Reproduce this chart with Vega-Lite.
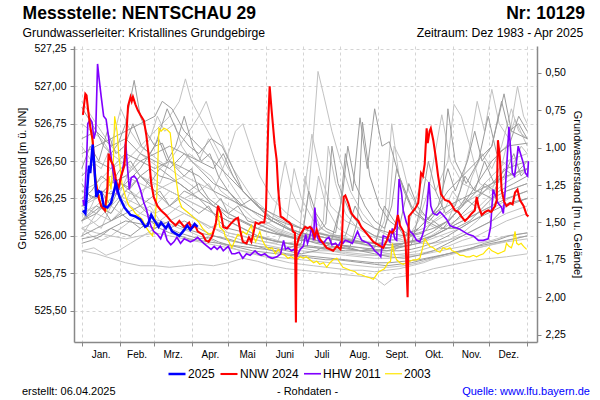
{
"$schema": "https://vega.github.io/schema/vega-lite/v6.json",
"width": 463, "height": 296,
"autosize": {"type": "none"},
"padding": {"left": 74, "top": 46, "right": 63, "bottom": 58},
"background": "white",
"config": {"view": {"stroke": null}, "font": "Liberation Sans", "axisX": {"labelOverlap": false, "labelBound": false, "labelFlush": false}},
"datasets": {
"gd": [
{"s":"g1","d":0,"v":526.86},{"s":"g1","d":6,"v":526.78},{"s":"g1","d":12,"v":526.7},{"s":"g1","d":18,"v":526.6},{"s":"g1","d":24,"v":526.55},{"s":"g1","d":30,"v":526.62},{"s":"g1","d":36,"v":526.75},{"s":"g1","d":43,"v":527.04},{"s":"g1","d":48,"v":526.8},{"s":"g1","d":54,"v":526.68},{"s":"g1","d":60,"v":526.6},{"s":"g1","d":66,"v":526.62},{"s":"g1","d":72,"v":526.5},{"s":"g1","d":84,"v":526.4},{"s":"g1","d":90,"v":526.45},{"s":"g1","d":96,"v":526.3},{"s":"g1","d":108,"v":526.2},{"s":"g1","d":114,"v":526.25},{"s":"g1","d":120,"v":526.15},{"s":"g1","d":132,"v":526.1},{"s":"g1","d":144,"v":526.05},{"s":"g1","d":156,"v":526.02},{"s":"g1","d":168,"v":526.0},{"s":"g1","d":180,"v":525.98},{"s":"g1","d":192,"v":525.95},{"s":"g1","d":204,"v":525.93},{"s":"g1","d":216,"v":525.92},{"s":"g1","d":228,"v":525.9},{"s":"g1","d":240,"v":525.9},{"s":"g1","d":252,"v":525.92},{"s":"g1","d":264,"v":525.95},{"s":"g1","d":276,"v":526.05},{"s":"g1","d":288,"v":526.15},{"s":"g1","d":300,"v":526.3},{"s":"g1","d":312,"v":526.4},{"s":"g1","d":324,"v":526.5},{"s":"g1","d":336,"v":526.6},{"s":"g1","d":346,"v":526.95},{"s":"g1","d":352,"v":526.7},{"s":"g1","d":365,"v":526.65},
{"s":"g3","d":0,"v":526.1},{"s":"g3","d":12,"v":526.15},{"s":"g3","d":24,"v":526.25},{"s":"g3","d":36,"v":526.35},{"s":"g3","d":48,"v":526.45},{"s":"g3","d":60,"v":526.6},{"s":"g3","d":70,"v":526.85},{"s":"g3","d":78,"v":526.7},{"s":"g3","d":88,"v":526.6},{"s":"g3","d":96,"v":526.55},{"s":"g3","d":106,"v":526.65},{"s":"g3","d":115,"v":526.6},{"s":"g3","d":124,"v":526.45},{"s":"g3","d":132,"v":526.3},{"s":"g3","d":144,"v":526.2},{"s":"g3","d":156,"v":526.1},{"s":"g3","d":168,"v":526.05},{"s":"g3","d":180,"v":526.0},{"s":"g3","d":192,"v":525.97},{"s":"g3","d":204,"v":525.95},{"s":"g3","d":216,"v":525.93},{"s":"g3","d":228,"v":525.9},{"s":"g3","d":240,"v":525.88},{"s":"g3","d":252,"v":525.86},{"s":"g3","d":264,"v":525.85},{"s":"g3","d":276,"v":525.87},{"s":"g3","d":288,"v":525.9},{"s":"g3","d":300,"v":525.95},{"s":"g3","d":312,"v":526.0},{"s":"g3","d":324,"v":526.05},{"s":"g3","d":336,"v":526.1},{"s":"g3","d":348,"v":526.2},{"s":"g3","d":365,"v":526.25},
{"s":"g6","d":0,"v":526.0},{"s":"g6","d":12,"v":526.05},{"s":"g6","d":24,"v":526.1},{"s":"g6","d":36,"v":526.15},{"s":"g6","d":48,"v":526.2},{"s":"g6","d":60,"v":526.1},{"s":"g6","d":72,"v":526.05},{"s":"g6","d":84,"v":526.1},{"s":"g6","d":96,"v":526.05},{"s":"g6","d":108,"v":526.0},{"s":"g6","d":120,"v":525.98},{"s":"g6","d":132,"v":525.95},{"s":"g6","d":144,"v":525.93},{"s":"g6","d":156,"v":525.92},{"s":"g6","d":168,"v":525.9},{"s":"g6","d":180,"v":525.88},{"s":"g6","d":192,"v":525.9},{"s":"g6","d":204,"v":525.95},{"s":"g6","d":212,"v":526.2},{"s":"g6","d":216,"v":526.55},{"s":"g6","d":222,"v":526.3},{"s":"g6","d":228,"v":526.79},{"s":"g6","d":234,"v":526.45},{"s":"g6","d":240,"v":526.85},{"s":"g6","d":246,"v":526.6},{"s":"g6","d":252,"v":526.63},{"s":"g6","d":260,"v":526.4},{"s":"g6","d":270,"v":526.2},{"s":"g6","d":282,"v":526.1},{"s":"g6","d":294,"v":526.05},{"s":"g6","d":306,"v":526.05},{"s":"g6","d":318,"v":526.1},{"s":"g6","d":330,"v":526.2},{"s":"g6","d":342,"v":526.3},{"s":"g6","d":354,"v":526.35},{"s":"g6","d":365,"v":526.4},
{"s":"g8","d":0,"v":526.4},{"s":"g8","d":12,"v":526.5},{"s":"g8","d":24,"v":526.45},{"s":"g8","d":36,"v":526.55},{"s":"g8","d":48,"v":526.5},{"s":"g8","d":60,"v":526.45},{"s":"g8","d":72,"v":526.5},{"s":"g8","d":84,"v":526.45},{"s":"g8","d":96,"v":526.4},{"s":"g8","d":108,"v":526.3},{"s":"g8","d":120,"v":526.25},{"s":"g8","d":132,"v":526.2},{"s":"g8","d":144,"v":526.15},{"s":"g8","d":156,"v":526.1},{"s":"g8","d":168,"v":526.05},{"s":"g8","d":180,"v":526.02},{"s":"g8","d":192,"v":526.0},{"s":"g8","d":204,"v":525.98},{"s":"g8","d":216,"v":525.96},{"s":"g8","d":228,"v":525.95},{"s":"g8","d":240,"v":525.93},{"s":"g8","d":252,"v":525.92},{"s":"g8","d":264,"v":525.93},{"s":"g8","d":276,"v":525.95},{"s":"g8","d":288,"v":526.0},{"s":"g8","d":300,"v":526.05},{"s":"g8","d":312,"v":526.15},{"s":"g8","d":324,"v":526.25},{"s":"g8","d":336,"v":526.35},{"s":"g8","d":348,"v":526.45},{"s":"g8","d":365,"v":526.5},
{"s":"g10","d":0,"v":525.98},{"s":"g10","d":12,"v":526.0},{"s":"g10","d":24,"v":526.05},{"s":"g10","d":36,"v":526.1},{"s":"g10","d":48,"v":526.08},{"s":"g10","d":60,"v":526.05},{"s":"g10","d":72,"v":526.1},{"s":"g10","d":84,"v":526.05},{"s":"g10","d":96,"v":526.02},{"s":"g10","d":108,"v":526.0},{"s":"g10","d":120,"v":525.97},{"s":"g10","d":132,"v":525.95},{"s":"g10","d":144,"v":525.93},{"s":"g10","d":156,"v":525.9},{"s":"g10","d":168,"v":525.88},{"s":"g10","d":180,"v":525.87},{"s":"g10","d":192,"v":525.86},{"s":"g10","d":204,"v":525.85},{"s":"g10","d":216,"v":525.84},{"s":"g10","d":228,"v":525.83},{"s":"g10","d":240,"v":525.82},{"s":"g10","d":252,"v":525.82},{"s":"g10","d":264,"v":525.83},{"s":"g10","d":276,"v":525.84},{"s":"g10","d":288,"v":525.86},{"s":"g10","d":300,"v":525.88},{"s":"g10","d":312,"v":525.9},{"s":"g10","d":324,"v":525.93},{"s":"g10","d":336,"v":525.95},{"s":"g10","d":348,"v":525.97},{"s":"g10","d":365,"v":526.0},
{"s":"g12","d":0,"v":526.55},{"s":"g12","d":12,"v":526.6},{"s":"g12","d":24,"v":526.65},{"s":"g12","d":36,"v":526.7},{"s":"g12","d":48,"v":526.75},{"s":"g12","d":60,"v":526.8},{"s":"g12","d":66,"v":526.9},{"s":"g12","d":74,"v":526.85},{"s":"g12","d":84,"v":526.7},{"s":"g12","d":96,"v":526.6},{"s":"g12","d":108,"v":526.5},{"s":"g12","d":120,"v":526.4},{"s":"g12","d":132,"v":526.3},{"s":"g12","d":144,"v":526.2},{"s":"g12","d":156,"v":526.12},{"s":"g12","d":168,"v":526.08},{"s":"g12","d":180,"v":526.05},{"s":"g12","d":192,"v":526.02},{"s":"g12","d":204,"v":526.0},{"s":"g12","d":216,"v":525.98},{"s":"g12","d":228,"v":525.96},{"s":"g12","d":240,"v":525.95},{"s":"g12","d":252,"v":525.94},{"s":"g12","d":264,"v":525.95},{"s":"g12","d":276,"v":525.97},{"s":"g12","d":288,"v":526.0},{"s":"g12","d":300,"v":526.05},{"s":"g12","d":312,"v":526.1},{"s":"g12","d":324,"v":526.15},{"s":"g12","d":336,"v":526.2},{"s":"g12","d":348,"v":526.25},{"s":"g12","d":365,"v":526.3},
{"s":"g14","d":0,"v":526.3},{"s":"g14","d":12,"v":526.25},{"s":"g14","d":24,"v":526.35},{"s":"g14","d":36,"v":526.4},{"s":"g14","d":48,"v":526.5},{"s":"g14","d":60,"v":526.55},{"s":"g14","d":72,"v":526.6},{"s":"g14","d":84,"v":526.55},{"s":"g14","d":96,"v":526.5},{"s":"g14","d":108,"v":526.45},{"s":"g14","d":116,"v":526.55},{"s":"g14","d":124,"v":526.4},{"s":"g14","d":132,"v":526.3},{"s":"g14","d":144,"v":526.2},{"s":"g14","d":156,"v":526.15},{"s":"g14","d":168,"v":526.1},{"s":"g14","d":180,"v":526.05},{"s":"g14","d":192,"v":526.02},{"s":"g14","d":204,"v":526.0},{"s":"g14","d":216,"v":526.0},{"s":"g14","d":224,"v":526.2},{"s":"g14","d":230,"v":526.1},{"s":"g14","d":240,"v":526.05},{"s":"g14","d":252,"v":526.02},{"s":"g14","d":264,"v":526.0},{"s":"g14","d":276,"v":526.02},{"s":"g14","d":288,"v":526.05},{"s":"g14","d":300,"v":526.1},{"s":"g14","d":312,"v":526.2},{"s":"g14","d":324,"v":526.3},{"s":"g14","d":336,"v":526.35},{"s":"g14","d":348,"v":526.4},{"s":"g14","d":365,"v":526.45},
{"s":"g16","d":0,"v":526.1},{"s":"g16","d":12,"v":526.2},{"s":"g16","d":24,"v":526.15},{"s":"g16","d":36,"v":526.3},{"s":"g16","d":48,"v":526.4},{"s":"g16","d":60,"v":526.3},{"s":"g16","d":72,"v":526.2},{"s":"g16","d":84,"v":526.3},{"s":"g16","d":96,"v":526.25},{"s":"g16","d":108,"v":526.15},{"s":"g16","d":120,"v":526.1},{"s":"g16","d":132,"v":526.05},{"s":"g16","d":144,"v":526.0},{"s":"g16","d":156,"v":525.97},{"s":"g16","d":168,"v":525.95},{"s":"g16","d":180,"v":525.93},{"s":"g16","d":192,"v":525.92},{"s":"g16","d":204,"v":525.91},{"s":"g16","d":216,"v":525.9},{"s":"g16","d":228,"v":525.9},{"s":"g16","d":240,"v":525.92},{"s":"g16","d":248,"v":526.2},{"s":"g16","d":256,"v":526.1},{"s":"g16","d":264,"v":526.0},{"s":"g16","d":276,"v":526.05},{"s":"g16","d":288,"v":526.15},{"s":"g16","d":300,"v":526.2},{"s":"g16","d":312,"v":526.25},{"s":"g16","d":324,"v":526.3},{"s":"g16","d":336,"v":526.25},{"s":"g16","d":348,"v":526.3},{"s":"g16","d":365,"v":526.35},
{"s":"g18","d":0,"v":526.65},{"s":"g18","d":12,"v":526.7},{"s":"g18","d":24,"v":526.6},{"s":"g18","d":36,"v":526.65},{"s":"g18","d":48,"v":526.55},{"s":"g18","d":60,"v":526.5},{"s":"g18","d":72,"v":526.45},{"s":"g18","d":84,"v":526.55},{"s":"g18","d":96,"v":526.45},{"s":"g18","d":108,"v":526.35},{"s":"g18","d":120,"v":526.3},{"s":"g18","d":132,"v":526.2},{"s":"g18","d":144,"v":526.15},{"s":"g18","d":156,"v":526.1},{"s":"g18","d":168,"v":526.05},{"s":"g18","d":180,"v":526.0},{"s":"g18","d":192,"v":526.0},{"s":"g18","d":204,"v":525.98},{"s":"g18","d":216,"v":525.97},{"s":"g18","d":228,"v":525.96},{"s":"g18","d":240,"v":525.95},{"s":"g18","d":252,"v":525.94},{"s":"g18","d":264,"v":525.95},{"s":"g18","d":276,"v":525.98},{"s":"g18","d":288,"v":526.03},{"s":"g18","d":300,"v":526.1},{"s":"g18","d":312,"v":526.2},{"s":"g18","d":324,"v":526.35},{"s":"g18","d":336,"v":526.5},{"s":"g18","d":348,"v":526.6},{"s":"g18","d":365,"v":526.62},
{"s":"g19","d":0,"v":526.45},{"s":"g19","d":7,"v":526.6},{"s":"g19","d":14,"v":526.5},{"s":"g19","d":21,"v":526.7},{"s":"g19","d":28,"v":526.55},{"s":"g19","d":35,"v":526.6},{"s":"g19","d":42,"v":526.75},{"s":"g19","d":49,"v":526.6},{"s":"g19","d":56,"v":526.55},{"s":"g19","d":63,"v":526.65},{"s":"g19","d":70,"v":526.5},{"s":"g19","d":77,"v":526.6},{"s":"g19","d":84,"v":526.8},{"s":"g19","d":91,"v":526.6},{"s":"g19","d":98,"v":526.5},{"s":"g19","d":105,"v":526.55},{"s":"g19","d":112,"v":526.4},{"s":"g19","d":120,"v":526.3},{"s":"g19","d":130,"v":526.2},{"s":"g19","d":140,"v":526.25},{"s":"g19","d":150,"v":526.15},{"s":"g19","d":160,"v":526.1},{"s":"g19","d":170,"v":526.05},{"s":"g19","d":180,"v":526.02},{"s":"g19","d":190,"v":526.0},{"s":"g19","d":200,"v":526.08},{"s":"g19","d":205,"v":526.6},{"s":"g19","d":210,"v":526.35},{"s":"g19","d":220,"v":526.15},{"s":"g19","d":230,"v":526.05},{"s":"g19","d":240,"v":526.0},{"s":"g19","d":250,"v":525.98},{"s":"g19","d":260,"v":526.05},{"s":"g19","d":268,"v":526.35},{"s":"g19","d":275,"v":526.2},{"s":"g19","d":285,"v":526.1},{"s":"g19","d":295,"v":526.2},{"s":"g19","d":300,"v":526.85},{"s":"g19","d":306,"v":526.5},{"s":"g19","d":315,"v":526.35},{"s":"g19","d":325,"v":526.5},{"s":"g19","d":333,"v":526.8},{"s":"g19","d":340,"v":526.55},{"s":"g19","d":350,"v":526.6},{"s":"g19","d":358,"v":526.8},{"s":"g19","d":365,"v":526.7},
{"s":"g21","d":0,"v":526.25},{"s":"g21","d":8,"v":526.3},{"s":"g21","d":16,"v":526.4},{"s":"g21","d":24,"v":526.35},{"s":"g21","d":32,"v":526.45},{"s":"g21","d":40,"v":526.5},{"s":"g21","d":48,"v":526.4},{"s":"g21","d":56,"v":526.35},{"s":"g21","d":64,"v":526.45},{"s":"g21","d":72,"v":526.4},{"s":"g21","d":80,"v":526.35},{"s":"g21","d":88,"v":526.3},{"s":"g21","d":96,"v":526.35},{"s":"g21","d":104,"v":526.25},{"s":"g21","d":112,"v":526.2},{"s":"g21","d":120,"v":526.15},{"s":"g21","d":128,"v":526.2},{"s":"g21","d":136,"v":526.1},{"s":"g21","d":144,"v":526.08},{"s":"g21","d":152,"v":526.05},{"s":"g21","d":160,"v":526.02},{"s":"g21","d":168,"v":526.0},{"s":"g21","d":176,"v":525.98},{"s":"g21","d":184,"v":526.0},{"s":"g21","d":192,"v":525.97},{"s":"g21","d":200,"v":525.95},{"s":"g21","d":210,"v":525.94},{"s":"g21","d":220,"v":525.93},{"s":"g21","d":226,"v":526.1},{"s":"g21","d":230,"v":526.76},{"s":"g21","d":236,"v":526.4},{"s":"g21","d":244,"v":526.2},{"s":"g21","d":252,"v":526.1},{"s":"g21","d":260,"v":526.05},{"s":"g21","d":270,"v":526.0},{"s":"g21","d":280,"v":526.02},{"s":"g21","d":288,"v":526.1},{"s":"g21","d":296,"v":526.05},{"s":"g21","d":306,"v":526.15},{"s":"g21","d":314,"v":526.25},{"s":"g21","d":322,"v":526.2},{"s":"g21","d":330,"v":526.35},{"s":"g21","d":338,"v":526.3},{"s":"g21","d":346,"v":526.45},{"s":"g21","d":354,"v":526.4},{"s":"g21","d":365,"v":526.5},
{"s":"g23","d":0,"v":525.95},{"s":"g23","d":8,"v":525.97},{"s":"g23","d":16,"v":526.0},{"s":"g23","d":24,"v":526.05},{"s":"g23","d":32,"v":526.02},{"s":"g23","d":40,"v":526.0},{"s":"g23","d":48,"v":526.05},{"s":"g23","d":56,"v":526.1},{"s":"g23","d":64,"v":526.08},{"s":"g23","d":72,"v":526.05},{"s":"g23","d":80,"v":526.02},{"s":"g23","d":88,"v":526.0},{"s":"g23","d":96,"v":525.98},{"s":"g23","d":104,"v":525.99},{"s":"g23","d":112,"v":525.96},{"s":"g23","d":120,"v":525.94},{"s":"g23","d":130,"v":525.92},{"s":"g23","d":140,"v":525.9},{"s":"g23","d":150,"v":525.89},{"s":"g23","d":160,"v":525.88},{"s":"g23","d":170,"v":525.87},{"s":"g23","d":180,"v":525.86},{"s":"g23","d":190,"v":525.85},{"s":"g23","d":200,"v":525.84},{"s":"g23","d":210,"v":525.84},{"s":"g23","d":220,"v":525.83},{"s":"g23","d":230,"v":525.82},{"s":"g23","d":240,"v":525.81},{"s":"g23","d":250,"v":525.8},{"s":"g23","d":260,"v":525.81},{"s":"g23","d":270,"v":525.82},{"s":"g23","d":280,"v":525.84},{"s":"g23","d":290,"v":525.86},{"s":"g23","d":300,"v":525.88},{"s":"g23","d":310,"v":525.9},{"s":"g23","d":320,"v":525.92},{"s":"g23","d":330,"v":525.95},{"s":"g23","d":340,"v":525.97},{"s":"g23","d":350,"v":526.0},{"s":"g23","d":365,"v":526.02},
{"s":"g25","d":0,"v":526.35},{"s":"g25","d":8,"v":526.25},{"s":"g25","d":16,"v":526.3},{"s":"g25","d":24,"v":526.2},{"s":"g25","d":32,"v":526.35},{"s":"g25","d":40,"v":526.3},{"s":"g25","d":48,"v":526.2},{"s":"g25","d":56,"v":526.25},{"s":"g25","d":64,"v":526.3},{"s":"g25","d":72,"v":526.2},{"s":"g25","d":80,"v":526.25},{"s":"g25","d":88,"v":526.2},{"s":"g25","d":96,"v":526.15},{"s":"g25","d":104,"v":526.2},{"s":"g25","d":112,"v":526.1},{"s":"g25","d":120,"v":526.05},{"s":"g25","d":130,"v":526.03},{"s":"g25","d":140,"v":526.0},{"s":"g25","d":150,"v":525.98},{"s":"g25","d":160,"v":525.96},{"s":"g25","d":170,"v":525.95},{"s":"g25","d":180,"v":525.94},{"s":"g25","d":190,"v":525.93},{"s":"g25","d":200,"v":525.92},{"s":"g25","d":210,"v":525.92},{"s":"g25","d":220,"v":525.91},{"s":"g25","d":230,"v":525.9},{"s":"g25","d":240,"v":525.9},{"s":"g25","d":250,"v":525.9},{"s":"g25","d":260,"v":525.92},{"s":"g25","d":270,"v":525.94},{"s":"g25","d":278,"v":526.2},{"s":"g25","d":284,"v":526.5},{"s":"g25","d":290,"v":526.3},{"s":"g25","d":298,"v":526.15},{"s":"g25","d":306,"v":526.2},{"s":"g25","d":314,"v":526.4},{"s":"g25","d":322,"v":526.3},{"s":"g25","d":330,"v":526.5},{"s":"g25","d":338,"v":526.35},{"s":"g25","d":346,"v":526.4},{"s":"g25","d":354,"v":526.55},{"s":"g25","d":360,"v":526.4},{"s":"g25","d":365,"v":526.45},
{"s":"g27","d":0,"v":526.2},{"s":"g27","d":8,"v":526.25},{"s":"g27","d":16,"v":526.3},{"s":"g27","d":24,"v":526.28},{"s":"g27","d":32,"v":526.35},{"s":"g27","d":40,"v":526.32},{"s":"g27","d":48,"v":526.4},{"s":"g27","d":56,"v":526.45},{"s":"g27","d":64,"v":526.4},{"s":"g27","d":72,"v":526.38},{"s":"g27","d":80,"v":526.35},{"s":"g27","d":88,"v":526.3},{"s":"g27","d":96,"v":526.25},{"s":"g27","d":104,"v":526.22},{"s":"g27","d":112,"v":526.18},{"s":"g27","d":120,"v":526.12},{"s":"g27","d":130,"v":526.1},{"s":"g27","d":140,"v":526.06},{"s":"g27","d":150,"v":526.03},{"s":"g27","d":160,"v":526.01},{"s":"g27","d":170,"v":525.99},{"s":"g27","d":180,"v":525.97},{"s":"g27","d":190,"v":525.96},{"s":"g27","d":200,"v":525.95},{"s":"g27","d":210,"v":525.94},{"s":"g27","d":220,"v":525.93},{"s":"g27","d":230,"v":525.92},{"s":"g27","d":240,"v":525.91},{"s":"g27","d":250,"v":525.9},{"s":"g27","d":260,"v":525.9},{"s":"g27","d":270,"v":525.91},{"s":"g27","d":280,"v":525.93},{"s":"g27","d":290,"v":525.96},{"s":"g27","d":300,"v":526.0},{"s":"g27","d":310,"v":526.05},{"s":"g27","d":320,"v":526.1},{"s":"g27","d":330,"v":526.14},{"s":"g27","d":340,"v":526.18},{"s":"g27","d":350,"v":526.22},{"s":"g27","d":365,"v":526.25},
{"s":"g29","d":0,"v":526.1},{"s":"g29","d":8,"v":526.15},{"s":"g29","d":16,"v":526.2},{"s":"g29","d":24,"v":526.1},{"s":"g29","d":32,"v":526.15},{"s":"g29","d":40,"v":526.1},{"s":"g29","d":48,"v":526.05},{"s":"g29","d":56,"v":526.1},{"s":"g29","d":64,"v":526.05},{"s":"g29","d":72,"v":526.02},{"s":"g29","d":80,"v":526.0},{"s":"g29","d":88,"v":525.98},{"s":"g29","d":96,"v":525.97},{"s":"g29","d":104,"v":525.96},{"s":"g29","d":112,"v":525.95},{"s":"g29","d":120,"v":525.94},{"s":"g29","d":130,"v":525.93},{"s":"g29","d":140,"v":525.92},{"s":"g29","d":150,"v":525.91},{"s":"g29","d":160,"v":525.9},{"s":"g29","d":170,"v":525.92},{"s":"g29","d":180,"v":525.95},{"s":"g29","d":186,"v":526.3},{"s":"g29","d":192,"v":526.15},{"s":"g29","d":200,"v":526.05},{"s":"g29","d":208,"v":526.02},{"s":"g29","d":214,"v":526.3},{"s":"g29","d":218,"v":526.6},{"s":"g29","d":224,"v":526.35},{"s":"g29","d":232,"v":526.2},{"s":"g29","d":240,"v":526.1},{"s":"g29","d":248,"v":526.05},{"s":"g29","d":254,"v":526.2},{"s":"g29","d":258,"v":526.45},{"s":"g29","d":264,"v":526.3},{"s":"g29","d":272,"v":526.15},{"s":"g29","d":282,"v":526.1},{"s":"g29","d":292,"v":526.2},{"s":"g29","d":300,"v":526.45},{"s":"g29","d":306,"v":526.3},{"s":"g29","d":316,"v":526.5},{"s":"g29","d":322,"v":526.7},{"s":"g29","d":328,"v":526.5},{"s":"g29","d":336,"v":526.6},{"s":"g29","d":344,"v":526.9},{"s":"g29","d":350,"v":526.7},{"s":"g29","d":358,"v":526.75},{"s":"g29","d":365,"v":526.65}
],
"gl": [
{"s":"g2","d":0,"v":526.3},{"s":"g2","d":12,"v":526.35},{"s":"g2","d":24,"v":526.45},{"s":"g2","d":36,"v":526.5},{"s":"g2","d":48,"v":526.6},{"s":"g2","d":60,"v":526.7},{"s":"g2","d":72,"v":526.8},{"s":"g2","d":80,"v":526.9},{"s":"g2","d":85,"v":527.05},{"s":"g2","d":90,"v":526.9},{"s":"g2","d":100,"v":526.75},{"s":"g2","d":110,"v":526.6},{"s":"g2","d":120,"v":526.45},{"s":"g2","d":132,"v":526.3},{"s":"g2","d":144,"v":526.2},{"s":"g2","d":156,"v":526.1},{"s":"g2","d":168,"v":526.05},{"s":"g2","d":180,"v":526.0},{"s":"g2","d":192,"v":525.97},{"s":"g2","d":204,"v":525.95},{"s":"g2","d":216,"v":525.93},{"s":"g2","d":228,"v":525.92},{"s":"g2","d":240,"v":525.9},{"s":"g2","d":252,"v":525.88},{"s":"g2","d":264,"v":525.87},{"s":"g2","d":276,"v":525.88},{"s":"g2","d":288,"v":525.9},{"s":"g2","d":300,"v":525.93},{"s":"g2","d":312,"v":525.97},{"s":"g2","d":324,"v":526.0},{"s":"g2","d":336,"v":526.05},{"s":"g2","d":348,"v":526.1},{"s":"g2","d":365,"v":526.15},
{"s":"g4","d":0,"v":526.05},{"s":"g4","d":12,"v":526.1},{"s":"g4","d":24,"v":526.2},{"s":"g4","d":36,"v":526.3},{"s":"g4","d":48,"v":526.25},{"s":"g4","d":60,"v":526.2},{"s":"g4","d":72,"v":526.3},{"s":"g4","d":84,"v":526.25},{"s":"g4","d":96,"v":526.2},{"s":"g4","d":108,"v":526.15},{"s":"g4","d":120,"v":526.1},{"s":"g4","d":132,"v":526.05},{"s":"g4","d":144,"v":526.0},{"s":"g4","d":156,"v":525.98},{"s":"g4","d":168,"v":525.95},{"s":"g4","d":180,"v":525.97},{"s":"g4","d":186,"v":526.3},{"s":"g4","d":190,"v":526.7},{"s":"g4","d":193.6,"v":527.1},{"s":"g4","d":198,"v":526.95},{"s":"g4","d":205,"v":526.7},{"s":"g4","d":212,"v":526.5},{"s":"g4","d":220,"v":526.3},{"s":"g4","d":230,"v":526.15},{"s":"g4","d":240,"v":526.05},{"s":"g4","d":252,"v":526.0},{"s":"g4","d":264,"v":525.97},{"s":"g4","d":276,"v":525.95},{"s":"g4","d":288,"v":525.95},{"s":"g4","d":300,"v":525.97},{"s":"g4","d":312,"v":526.0},{"s":"g4","d":324,"v":526.05},{"s":"g4","d":336,"v":526.1},{"s":"g4","d":348,"v":526.15},{"s":"g4","d":365,"v":526.2},
{"s":"g5","d":0,"v":526.2},{"s":"g5","d":12,"v":526.25},{"s":"g5","d":24,"v":526.35},{"s":"g5","d":36,"v":526.4},{"s":"g5","d":48,"v":526.35},{"s":"g5","d":60,"v":526.3},{"s":"g5","d":72,"v":526.35},{"s":"g5","d":84,"v":526.4},{"s":"g5","d":96,"v":526.35},{"s":"g5","d":108,"v":526.3},{"s":"g5","d":118,"v":526.5},{"s":"g5","d":126,"v":526.7},{"s":"g5","d":132,"v":526.75},{"s":"g5","d":138,"v":526.6},{"s":"g5","d":146,"v":526.4},{"s":"g5","d":156,"v":526.25},{"s":"g5","d":168,"v":526.15},{"s":"g5","d":180,"v":526.08},{"s":"g5","d":192,"v":526.03},{"s":"g5","d":204,"v":526.0},{"s":"g5","d":216,"v":525.97},{"s":"g5","d":228,"v":525.95},{"s":"g5","d":240,"v":525.93},{"s":"g5","d":252,"v":525.92},{"s":"g5","d":264,"v":525.95},{"s":"g5","d":276,"v":526.1},{"s":"g5","d":284,"v":526.3},{"s":"g5","d":295,"v":526.81},{"s":"g5","d":302,"v":526.5},{"s":"g5","d":312,"v":526.35},{"s":"g5","d":324,"v":526.3},{"s":"g5","d":336,"v":526.4},{"s":"g5","d":348,"v":526.5},{"s":"g5","d":365,"v":526.55},
{"s":"g7","d":0,"v":525.9},{"s":"g7","d":12,"v":525.88},{"s":"g7","d":24,"v":525.85},{"s":"g7","d":36,"v":525.82},{"s":"g7","d":48,"v":525.8},{"s":"g7","d":60,"v":525.8},{"s":"g7","d":72,"v":525.79},{"s":"g7","d":84,"v":525.8},{"s":"g7","d":96,"v":525.81},{"s":"g7","d":108,"v":525.8},{"s":"g7","d":120,"v":525.82},{"s":"g7","d":132,"v":525.85},{"s":"g7","d":144,"v":525.83},{"s":"g7","d":156,"v":525.8},{"s":"g7","d":168,"v":525.78},{"s":"g7","d":180,"v":525.77},{"s":"g7","d":192,"v":525.76},{"s":"g7","d":204,"v":525.75},{"s":"g7","d":216,"v":525.74},{"s":"g7","d":228,"v":525.73},{"s":"g7","d":240,"v":525.72},{"s":"g7","d":248,"v":525.67},{"s":"g7","d":256,"v":525.72},{"s":"g7","d":264,"v":525.73},{"s":"g7","d":276,"v":525.75},{"s":"g7","d":288,"v":525.78},{"s":"g7","d":300,"v":525.8},{"s":"g7","d":312,"v":525.82},{"s":"g7","d":324,"v":525.84},{"s":"g7","d":336,"v":525.85},{"s":"g7","d":348,"v":525.86},{"s":"g7","d":365,"v":525.88},
{"s":"g9","d":0,"v":526.15},{"s":"g9","d":12,"v":526.2},{"s":"g9","d":24,"v":526.3},{"s":"g9","d":36,"v":526.25},{"s":"g9","d":48,"v":526.2},{"s":"g9","d":60,"v":526.15},{"s":"g9","d":72,"v":526.2},{"s":"g9","d":84,"v":526.15},{"s":"g9","d":96,"v":526.1},{"s":"g9","d":108,"v":526.05},{"s":"g9","d":120,"v":526.02},{"s":"g9","d":132,"v":526.0},{"s":"g9","d":144,"v":525.97},{"s":"g9","d":156,"v":525.95},{"s":"g9","d":168,"v":525.93},{"s":"g9","d":180,"v":525.92},{"s":"g9","d":192,"v":525.9},{"s":"g9","d":204,"v":525.9},{"s":"g9","d":216,"v":525.88},{"s":"g9","d":228,"v":525.87},{"s":"g9","d":240,"v":525.87},{"s":"g9","d":252,"v":525.88},{"s":"g9","d":264,"v":525.95},{"s":"g9","d":272,"v":526.2},{"s":"g9","d":280,"v":526.4},{"s":"g9","d":290,"v":526.3},{"s":"g9","d":300,"v":526.5},{"s":"g9","d":305,"v":526.88},{"s":"g9","d":311,"v":526.8},{"s":"g9","d":318,"v":526.6},{"s":"g9","d":324,"v":526.9},{"s":"g9","d":330,"v":526.7},{"s":"g9","d":336,"v":526.98},{"s":"g9","d":342,"v":526.75},{"s":"g9","d":350,"v":526.65},{"s":"g9","d":357,"v":527.0},{"s":"g9","d":362,"v":526.8},{"s":"g9","d":365,"v":526.75},
{"s":"g11","d":0,"v":526.2},{"s":"g11","d":12,"v":526.15},{"s":"g11","d":24,"v":526.1},{"s":"g11","d":36,"v":526.2},{"s":"g11","d":48,"v":526.3},{"s":"g11","d":60,"v":526.35},{"s":"g11","d":72,"v":526.3},{"s":"g11","d":84,"v":526.25},{"s":"g11","d":96,"v":526.3},{"s":"g11","d":108,"v":526.2},{"s":"g11","d":120,"v":526.15},{"s":"g11","d":132,"v":526.1},{"s":"g11","d":144,"v":526.05},{"s":"g11","d":156,"v":526.1},{"s":"g11","d":162,"v":526.3},{"s":"g11","d":166.6,"v":526.5},{"s":"g11","d":172,"v":526.3},{"s":"g11","d":180,"v":526.15},{"s":"g11","d":188.6,"v":526.68},{"s":"g11","d":196,"v":526.4},{"s":"g11","d":204,"v":526.2},{"s":"g11","d":216,"v":526.1},{"s":"g11","d":228,"v":526.05},{"s":"g11","d":240,"v":526.0},{"s":"g11","d":252,"v":525.98},{"s":"g11","d":264,"v":525.96},{"s":"g11","d":276,"v":525.97},{"s":"g11","d":288,"v":526.0},{"s":"g11","d":300,"v":526.05},{"s":"g11","d":312,"v":526.1},{"s":"g11","d":324,"v":526.15},{"s":"g11","d":336,"v":526.2},{"s":"g11","d":348,"v":526.3},{"s":"g11","d":365,"v":526.35},
{"s":"g13","d":0,"v":526.9},{"s":"g13","d":8,"v":526.8},{"s":"g13","d":16,"v":526.7},{"s":"g13","d":24,"v":526.6},{"s":"g13","d":36,"v":526.5},{"s":"g13","d":48,"v":526.4},{"s":"g13","d":60,"v":526.35},{"s":"g13","d":72,"v":526.3},{"s":"g13","d":84,"v":526.25},{"s":"g13","d":96,"v":526.2},{"s":"g13","d":108,"v":526.15},{"s":"g13","d":120,"v":526.1},{"s":"g13","d":132,"v":526.05},{"s":"g13","d":144,"v":526.0},{"s":"g13","d":156,"v":525.97},{"s":"g13","d":168,"v":525.95},{"s":"g13","d":180,"v":525.93},{"s":"g13","d":192,"v":525.92},{"s":"g13","d":204,"v":525.9},{"s":"g13","d":216,"v":525.89},{"s":"g13","d":228,"v":525.88},{"s":"g13","d":240,"v":525.87},{"s":"g13","d":252,"v":525.87},{"s":"g13","d":264,"v":525.88},{"s":"g13","d":276,"v":525.9},{"s":"g13","d":288,"v":525.93},{"s":"g13","d":300,"v":525.97},{"s":"g13","d":312,"v":526.02},{"s":"g13","d":324,"v":526.1},{"s":"g13","d":336,"v":526.2},{"s":"g13","d":348,"v":526.6},{"s":"g13","d":355,"v":526.78},{"s":"g13","d":365,"v":526.6},
{"s":"g15","d":0,"v":526.05},{"s":"g15","d":12,"v":526.02},{"s":"g15","d":24,"v":526.0},{"s":"g15","d":36,"v":525.98},{"s":"g15","d":48,"v":526.0},{"s":"g15","d":60,"v":526.02},{"s":"g15","d":72,"v":526.0},{"s":"g15","d":84,"v":525.98},{"s":"g15","d":96,"v":525.96},{"s":"g15","d":108,"v":525.94},{"s":"g15","d":120,"v":525.92},{"s":"g15","d":132,"v":525.9},{"s":"g15","d":144,"v":525.88},{"s":"g15","d":156,"v":525.86},{"s":"g15","d":168,"v":525.85},{"s":"g15","d":180,"v":525.84},{"s":"g15","d":192,"v":525.83},{"s":"g15","d":204,"v":525.82},{"s":"g15","d":216,"v":525.81},{"s":"g15","d":228,"v":525.8},{"s":"g15","d":240,"v":525.79},{"s":"g15","d":252,"v":525.79},{"s":"g15","d":264,"v":525.8},{"s":"g15","d":276,"v":525.82},{"s":"g15","d":288,"v":525.85},{"s":"g15","d":300,"v":525.88},{"s":"g15","d":312,"v":525.9},{"s":"g15","d":324,"v":525.92},{"s":"g15","d":336,"v":525.94},{"s":"g15","d":348,"v":525.96},{"s":"g15","d":365,"v":525.98},
{"s":"g17","d":0,"v":525.9},{"s":"g17","d":10,"v":525.92},{"s":"g17","d":20,"v":525.87},{"s":"g17","d":30,"v":525.9},{"s":"g17","d":40,"v":525.95},{"s":"g17","d":50,"v":526.0},{"s":"g17","d":60,"v":526.05},{"s":"g17","d":72,"v":526.1},{"s":"g17","d":84,"v":526.15},{"s":"g17","d":96,"v":526.1},{"s":"g17","d":108,"v":526.05},{"s":"g17","d":120,"v":526.0},{"s":"g17","d":132,"v":525.97},{"s":"g17","d":144,"v":525.95},{"s":"g17","d":156,"v":525.93},{"s":"g17","d":168,"v":525.91},{"s":"g17","d":180,"v":525.9},{"s":"g17","d":192,"v":525.89},{"s":"g17","d":204,"v":525.88},{"s":"g17","d":216,"v":525.87},{"s":"g17","d":228,"v":525.86},{"s":"g17","d":240,"v":525.85},{"s":"g17","d":252,"v":525.85},{"s":"g17","d":264,"v":525.86},{"s":"g17","d":276,"v":525.87},{"s":"g17","d":288,"v":525.89},{"s":"g17","d":300,"v":525.91},{"s":"g17","d":312,"v":525.93},{"s":"g17","d":324,"v":525.95},{"s":"g17","d":336,"v":525.97},{"s":"g17","d":348,"v":526.0},{"s":"g17","d":365,"v":526.02},
{"s":"g20","d":0,"v":526.0},{"s":"g20","d":8,"v":526.1},{"s":"g20","d":16,"v":526.05},{"s":"g20","d":24,"v":526.2},{"s":"g20","d":32,"v":526.15},{"s":"g20","d":40,"v":526.3},{"s":"g20","d":48,"v":526.25},{"s":"g20","d":56,"v":526.4},{"s":"g20","d":64,"v":526.35},{"s":"g20","d":72,"v":526.5},{"s":"g20","d":80,"v":526.45},{"s":"g20","d":88,"v":526.55},{"s":"g20","d":96,"v":526.5},{"s":"g20","d":104,"v":526.65},{"s":"g20","d":110,"v":526.55},{"s":"g20","d":118,"v":526.4},{"s":"g20","d":126,"v":526.3},{"s":"g20","d":134,"v":526.2},{"s":"g20","d":142,"v":526.15},{"s":"g20","d":150,"v":526.1},{"s":"g20","d":160,"v":526.05},{"s":"g20","d":170,"v":526.02},{"s":"g20","d":180,"v":525.99},{"s":"g20","d":188,"v":526.05},{"s":"g20","d":194,"v":526.4},{"s":"g20","d":200,"v":526.2},{"s":"g20","d":210,"v":526.05},{"s":"g20","d":220,"v":526.0},{"s":"g20","d":230,"v":525.97},{"s":"g20","d":240,"v":525.95},{"s":"g20","d":248,"v":526.1},{"s":"g20","d":254,"v":526.75},{"s":"g20","d":260,"v":526.4},{"s":"g20","d":270,"v":526.2},{"s":"g20","d":280,"v":526.1},{"s":"g20","d":290,"v":526.05},{"s":"g20","d":300,"v":526.1},{"s":"g20","d":310,"v":526.3},{"s":"g20","d":318,"v":526.6},{"s":"g20","d":326,"v":526.35},{"s":"g20","d":336,"v":526.3},{"s":"g20","d":344,"v":526.5},{"s":"g20","d":352,"v":526.45},{"s":"g20","d":360,"v":526.6},{"s":"g20","d":365,"v":526.55},
{"s":"g22","d":0,"v":526.6},{"s":"g22","d":8,"v":526.5},{"s":"g22","d":16,"v":526.45},{"s":"g22","d":24,"v":526.6},{"s":"g22","d":32,"v":526.85},{"s":"g22","d":40,"v":526.7},{"s":"g22","d":48,"v":526.6},{"s":"g22","d":56,"v":526.55},{"s":"g22","d":64,"v":526.5},{"s":"g22","d":72,"v":526.45},{"s":"g22","d":80,"v":526.4},{"s":"g22","d":88,"v":526.35},{"s":"g22","d":96,"v":526.3},{"s":"g22","d":104,"v":526.35},{"s":"g22","d":112,"v":526.25},{"s":"g22","d":120,"v":526.2},{"s":"g22","d":130,"v":526.15},{"s":"g22","d":140,"v":526.1},{"s":"g22","d":150,"v":526.06},{"s":"g22","d":160,"v":526.03},{"s":"g22","d":170,"v":526.0},{"s":"g22","d":178,"v":525.98},{"s":"g22","d":183,"v":526.4},{"s":"g22","d":188,"v":526.2},{"s":"g22","d":196,"v":526.05},{"s":"g22","d":206,"v":526.0},{"s":"g22","d":216,"v":525.97},{"s":"g22","d":226,"v":525.95},{"s":"g22","d":236,"v":525.93},{"s":"g22","d":246,"v":525.95},{"s":"g22","d":252,"v":526.2},{"s":"g22","d":256,"v":526.6},{"s":"g22","d":262,"v":526.5},{"s":"g22","d":268,"v":526.3},{"s":"g22","d":278,"v":526.15},{"s":"g22","d":288,"v":526.1},{"s":"g22","d":296,"v":526.15},{"s":"g22","d":304,"v":526.3},{"s":"g22","d":312,"v":526.2},{"s":"g22","d":320,"v":526.4},{"s":"g22","d":328,"v":526.55},{"s":"g22","d":336,"v":526.45},{"s":"g22","d":344,"v":526.6},{"s":"g22","d":352,"v":526.85},{"s":"g22","d":358,"v":526.7},{"s":"g22","d":365,"v":526.65},
{"s":"g24","d":0,"v":526.15},{"s":"g24","d":8,"v":526.1},{"s":"g24","d":16,"v":526.2},{"s":"g24","d":24,"v":526.15},{"s":"g24","d":32,"v":526.25},{"s":"g24","d":40,"v":526.2},{"s":"g24","d":48,"v":526.15},{"s":"g24","d":56,"v":526.2},{"s":"g24","d":64,"v":526.1},{"s":"g24","d":72,"v":526.15},{"s":"g24","d":80,"v":526.2},{"s":"g24","d":88,"v":526.15},{"s":"g24","d":96,"v":526.1},{"s":"g24","d":104,"v":526.05},{"s":"g24","d":112,"v":526.08},{"s":"g24","d":120,"v":526.02},{"s":"g24","d":130,"v":526.0},{"s":"g24","d":140,"v":525.98},{"s":"g24","d":150,"v":525.96},{"s":"g24","d":160,"v":525.95},{"s":"g24","d":168,"v":526.1},{"s":"g24","d":174,"v":526.45},{"s":"g24","d":180,"v":526.25},{"s":"g24","d":190,"v":526.1},{"s":"g24","d":200,"v":526.03},{"s":"g24","d":210,"v":526.0},{"s":"g24","d":220,"v":525.98},{"s":"g24","d":230,"v":525.96},{"s":"g24","d":240,"v":525.95},{"s":"g24","d":250,"v":525.94},{"s":"g24","d":260,"v":525.93},{"s":"g24","d":270,"v":525.94},{"s":"g24","d":280,"v":525.96},{"s":"g24","d":290,"v":525.99},{"s":"g24","d":300,"v":526.02},{"s":"g24","d":310,"v":526.05},{"s":"g24","d":320,"v":526.1},{"s":"g24","d":330,"v":526.15},{"s":"g24","d":340,"v":526.2},{"s":"g24","d":350,"v":526.25},{"s":"g24","d":365,"v":526.3},
{"s":"g26","d":0,"v":526.75},{"s":"g26","d":8,"v":526.7},{"s":"g26","d":16,"v":526.65},{"s":"g26","d":24,"v":526.55},{"s":"g26","d":32,"v":526.5},{"s":"g26","d":40,"v":526.45},{"s":"g26","d":48,"v":526.55},{"s":"g26","d":56,"v":526.5},{"s":"g26","d":64,"v":526.45},{"s":"g26","d":72,"v":526.5},{"s":"g26","d":80,"v":526.6},{"s":"g26","d":88,"v":526.7},{"s":"g26","d":96,"v":526.8},{"s":"g26","d":102,"v":526.9},{"s":"g26","d":108,"v":526.75},{"s":"g26","d":116,"v":526.6},{"s":"g26","d":124,"v":526.45},{"s":"g26","d":132,"v":526.35},{"s":"g26","d":140,"v":526.25},{"s":"g26","d":150,"v":526.18},{"s":"g26","d":160,"v":526.12},{"s":"g26","d":170,"v":526.08},{"s":"g26","d":180,"v":526.05},{"s":"g26","d":190,"v":526.03},{"s":"g26","d":200,"v":526.0},{"s":"g26","d":210,"v":525.98},{"s":"g26","d":220,"v":525.97},{"s":"g26","d":230,"v":525.96},{"s":"g26","d":240,"v":525.95},{"s":"g26","d":250,"v":525.96},{"s":"g26","d":260,"v":525.98},{"s":"g26","d":270,"v":526.02},{"s":"g26","d":280,"v":526.05},{"s":"g26","d":290,"v":526.1},{"s":"g26","d":300,"v":526.15},{"s":"g26","d":310,"v":526.2},{"s":"g26","d":320,"v":526.25},{"s":"g26","d":330,"v":526.3},{"s":"g26","d":340,"v":526.35},{"s":"g26","d":350,"v":526.4},{"s":"g26","d":365,"v":526.45},
{"s":"g28","d":0,"v":526.05},{"s":"g28","d":8,"v":526.0},{"s":"g28","d":16,"v":525.97},{"s":"g28","d":24,"v":526.0},{"s":"g28","d":32,"v":526.05},{"s":"g28","d":40,"v":526.1},{"s":"g28","d":48,"v":526.15},{"s":"g28","d":56,"v":526.12},{"s":"g28","d":64,"v":526.1},{"s":"g28","d":72,"v":526.08},{"s":"g28","d":80,"v":526.05},{"s":"g28","d":88,"v":526.03},{"s":"g28","d":96,"v":526.0},{"s":"g28","d":104,"v":525.98},{"s":"g28","d":112,"v":525.95},{"s":"g28","d":120,"v":525.93},{"s":"g28","d":130,"v":525.9},{"s":"g28","d":140,"v":525.88},{"s":"g28","d":150,"v":525.86},{"s":"g28","d":160,"v":525.84},{"s":"g28","d":170,"v":525.82},{"s":"g28","d":180,"v":525.81},{"s":"g28","d":190,"v":525.8},{"s":"g28","d":200,"v":525.79},{"s":"g28","d":210,"v":525.78},{"s":"g28","d":220,"v":525.77},{"s":"g28","d":230,"v":525.77},{"s":"g28","d":240,"v":525.76},{"s":"g28","d":250,"v":525.77},{"s":"g28","d":260,"v":525.78},{"s":"g28","d":270,"v":525.8},{"s":"g28","d":280,"v":525.82},{"s":"g28","d":290,"v":525.85},{"s":"g28","d":300,"v":525.87},{"s":"g28","d":310,"v":525.89},{"s":"g28","d":320,"v":525.91},{"s":"g28","d":330,"v":525.93},{"s":"g28","d":340,"v":525.95},{"s":"g28","d":350,"v":525.97},{"s":"g28","d":365,"v":526.0},
{"s":"g30","d":0,"v":526.1},{"s":"g30","d":8,"v":526.2},{"s":"g30","d":16,"v":526.35},{"s":"g30","d":24,"v":526.4},{"s":"g30","d":32,"v":526.3},{"s":"g30","d":40,"v":526.45},{"s":"g30","d":48,"v":526.55},{"s":"g30","d":56,"v":526.65},{"s":"g30","d":62,"v":526.8},{"s":"g30","d":68,"v":526.7},{"s":"g30","d":76,"v":526.75},{"s":"g30","d":82,"v":526.6},{"s":"g30","d":90,"v":526.5},{"s":"g30","d":98,"v":526.45},{"s":"g30","d":106,"v":526.4},{"s":"g30","d":114,"v":526.3},{"s":"g30","d":122,"v":526.25},{"s":"g30","d":130,"v":526.2},{"s":"g30","d":140,"v":526.12},{"s":"g30","d":150,"v":526.08},{"s":"g30","d":160,"v":526.04},{"s":"g30","d":170,"v":526.01},{"s":"g30","d":180,"v":525.99},{"s":"g30","d":190,"v":525.97},{"s":"g30","d":198,"v":526.1},{"s":"g30","d":202,"v":526.6},{"s":"g30","d":208,"v":526.35},{"s":"g30","d":216,"v":526.15},{"s":"g30","d":226,"v":526.05},{"s":"g30","d":236,"v":526.0},{"s":"g30","d":246,"v":525.97},{"s":"g30","d":256,"v":525.95},{"s":"g30","d":266,"v":525.95},{"s":"g30","d":276,"v":525.97},{"s":"g30","d":286,"v":526.0},{"s":"g30","d":296,"v":526.05},{"s":"g30","d":306,"v":526.1},{"s":"g30","d":316,"v":526.15},{"s":"g30","d":326,"v":526.2},{"s":"g30","d":336,"v":526.28},{"s":"g30","d":346,"v":526.35},{"s":"g30","d":356,"v":526.4},{"s":"g30","d":365,"v":526.45}
],
"hl": [
{"s":"2003","d":3,"v":526.95},{"s":"2003","d":4.5,"v":526.9},{"s":"2003","d":6,"v":526.8},{"s":"2003","d":9,"v":526.6},{"s":"2003","d":11.5,"v":526.4},{"s":"2003","d":13,"v":526.31},{"s":"2003","d":15.5,"v":526.22},{"s":"2003","d":18,"v":526.19},{"s":"2003","d":20,"v":526.17},{"s":"2003","d":21,"v":526.26},{"s":"2003","d":22.4,"v":526.4},{"s":"2003","d":24,"v":526.31},{"s":"2003","d":26,"v":526.51},{"s":"2003","d":27,"v":526.8},{"s":"2003","d":29,"v":526.7},{"s":"2003","d":30.5,"v":526.53},{"s":"2003","d":33,"v":526.35},{"s":"2003","d":36,"v":526.26},{"s":"2003","d":38.7,"v":526.2},{"s":"2003","d":41.5,"v":526.18},{"s":"2003","d":44,"v":526.15},{"s":"2003","d":47,"v":526.13},{"s":"2003","d":49.7,"v":526.11},{"s":"2003","d":52.5,"v":526.06},{"s":"2003","d":55,"v":526.03},{"s":"2003","d":58,"v":526.0},{"s":"2003","d":60,"v":526.09},{"s":"2003","d":61.5,"v":526.26},{"s":"2003","d":63.3,"v":526.72},{"s":"2003","d":65,"v":526.7},{"s":"2003","d":67.4,"v":526.72},{"s":"2003","d":70,"v":526.71},{"s":"2003","d":72.5,"v":526.69},{"s":"2003","d":74,"v":526.58},{"s":"2003","d":77,"v":526.4},{"s":"2003","d":79.7,"v":526.24},{"s":"2003","d":82,"v":526.19},{"s":"2003","d":85,"v":526.17},{"s":"2003","d":88,"v":526.15},{"s":"2003","d":90.6,"v":526.13},{"s":"2003","d":93.5,"v":526.11},{"s":"2003","d":96,"v":526.09},{"s":"2003","d":99,"v":526.05},{"s":"2003","d":101.5,"v":526.03},{"s":"2003","d":104,"v":526.01},{"s":"2003","d":107,"v":526.02},{"s":"2003","d":110,"v":526.06},{"s":"2003","d":111.6,"v":526.17},{"s":"2003","d":113,"v":526.06},{"s":"2003","d":116.6,"v":526.03},{"s":"2003","d":117.4,"v":526.0},{"s":"2003","d":120,"v":525.97},{"s":"2003","d":123,"v":525.92},{"s":"2003","d":125.5,"v":525.97},{"s":"2003","d":128,"v":526.01},{"s":"2003","d":130,"v":526.0},{"s":"2003","d":132,"v":526.03},{"s":"2003","d":135,"v":526.01},{"s":"2003","d":137,"v":526.04},{"s":"2003","d":139,"v":526.07},{"s":"2003","d":141,"v":525.99},{"s":"2003","d":142.5,"v":525.96},{"s":"2003","d":144,"v":525.99},{"s":"2003","d":146,"v":526.03},{"s":"2003","d":148,"v":525.97},{"s":"2003","d":150.7,"v":525.93},{"s":"2003","d":153.5,"v":525.91},{"s":"2003","d":156,"v":525.92},{"s":"2003","d":158.6,"v":525.88},{"s":"2003","d":161,"v":525.91},{"s":"2003","d":163.8,"v":525.88},{"s":"2003","d":166.5,"v":525.87},{"s":"2003","d":169,"v":525.85},{"s":"2003","d":171.5,"v":525.86},{"s":"2003","d":174,"v":525.85},{"s":"2003","d":176,"v":525.84},{"s":"2003","d":179,"v":525.86},{"s":"2003","d":181.6,"v":525.85},{"s":"2003","d":184,"v":525.86},{"s":"2003","d":187,"v":525.84},{"s":"2003","d":190,"v":525.82},{"s":"2003","d":192.5,"v":525.83},{"s":"2003","d":195,"v":525.81},{"s":"2003","d":198,"v":525.82},{"s":"2003","d":200.7,"v":525.79},{"s":"2003","d":203.4,"v":525.82},{"s":"2003","d":206,"v":525.84},{"s":"2003","d":209,"v":525.85},{"s":"2003","d":211.5,"v":525.82},{"s":"2003","d":214,"v":525.79},{"s":"2003","d":217,"v":525.78},{"s":"2003","d":220,"v":525.77},{"s":"2003","d":224,"v":525.76},{"s":"2003","d":226.6,"v":525.74},{"s":"2003","d":229,"v":525.74},{"s":"2003","d":232,"v":525.73},{"s":"2003","d":236,"v":525.72},{"s":"2003","d":239,"v":525.71},{"s":"2003","d":241.6,"v":525.74},{"s":"2003","d":243.5,"v":525.76},{"s":"2003","d":245.7,"v":525.77},{"s":"2003","d":248,"v":525.78},{"s":"2003","d":251,"v":525.82},{"s":"2003","d":253,"v":525.83},{"s":"2003","d":254.5,"v":525.95},{"s":"2003","d":256,"v":525.88},{"s":"2003","d":258,"v":525.84},{"s":"2003","d":260.7,"v":525.82},{"s":"2003","d":263.4,"v":525.81},{"s":"2003","d":266,"v":525.82},{"s":"2003","d":269,"v":525.83},{"s":"2003","d":271.6,"v":525.84},{"s":"2003","d":274.4,"v":525.84},{"s":"2003","d":277,"v":525.85},{"s":"2003","d":279,"v":525.91},{"s":"2003","d":281,"v":525.98},{"s":"2003","d":283.5,"v":525.95},{"s":"2003","d":285,"v":525.93},{"s":"2003","d":288,"v":525.92},{"s":"2003","d":291,"v":525.9},{"s":"2003","d":293.5,"v":525.89},{"s":"2003","d":296,"v":525.92},{"s":"2003","d":299,"v":525.91},{"s":"2003","d":301.7,"v":525.92},{"s":"2003","d":303.5,"v":525.9},{"s":"2003","d":306.5,"v":525.89},{"s":"2003","d":310,"v":525.87},{"s":"2003","d":312.5,"v":525.87},{"s":"2003","d":315,"v":525.86},{"s":"2003","d":318,"v":525.86},{"s":"2003","d":320.8,"v":525.87},{"s":"2003","d":323.5,"v":525.86},{"s":"2003","d":326,"v":525.87},{"s":"2003","d":329,"v":525.88},{"s":"2003","d":331,"v":525.9},{"s":"2003","d":333.6,"v":525.92},{"s":"2003","d":336,"v":525.9},{"s":"2003","d":338.6,"v":525.89},{"s":"2003","d":341,"v":525.88},{"s":"2003","d":344,"v":525.89},{"s":"2003","d":346.6,"v":525.9},{"s":"2003","d":348,"v":525.95},{"s":"2003","d":350,"v":525.93},{"s":"2003","d":352,"v":525.92},{"s":"2003","d":353.6,"v":525.96},{"s":"2003","d":355,"v":526.03},{"s":"2003","d":356.4,"v":525.95},{"s":"2003","d":358,"v":525.94},{"s":"2003","d":360,"v":525.95},{"s":"2003","d":362,"v":525.93},{"s":"2003","d":364.5,"v":525.91},
{"s":"HHW 2011","d":1,"v":526.24},{"s":"HHW 2011","d":2,"v":526.2},{"s":"HHW 2011","d":4,"v":526.5},{"s":"HHW 2011","d":5,"v":526.75},{"s":"HHW 2011","d":7,"v":526.78},{"s":"HHW 2011","d":8.5,"v":526.76},{"s":"HHW 2011","d":10,"v":526.65},{"s":"HHW 2011","d":11.5,"v":526.7},{"s":"HHW 2011","d":13,"v":527.15},{"s":"HHW 2011","d":14,"v":527.07},{"s":"HHW 2011","d":16,"v":526.93},{"s":"HHW 2011","d":18,"v":526.8},{"s":"HHW 2011","d":20,"v":526.78},{"s":"HHW 2011","d":21,"v":526.72},{"s":"HHW 2011","d":23,"v":526.6},{"s":"HHW 2011","d":25,"v":526.47},{"s":"HHW 2011","d":27,"v":526.35},{"s":"HHW 2011","d":29,"v":526.29},{"s":"HHW 2011","d":31.4,"v":526.36},{"s":"HHW 2011","d":33,"v":526.42},{"s":"HHW 2011","d":35,"v":526.51},{"s":"HHW 2011","d":36,"v":526.63},{"s":"HHW 2011","d":37.4,"v":526.47},{"s":"HHW 2011","d":39,"v":526.31},{"s":"HHW 2011","d":40.6,"v":526.39},{"s":"HHW 2011","d":43,"v":526.4},{"s":"HHW 2011","d":45,"v":526.38},{"s":"HHW 2011","d":48,"v":526.31},{"s":"HHW 2011","d":51,"v":526.22},{"s":"HHW 2011","d":53,"v":526.18},{"s":"HHW 2011","d":55,"v":526.11},{"s":"HHW 2011","d":57,"v":526.06},{"s":"HHW 2011","d":59,"v":526.03},{"s":"HHW 2011","d":62,"v":526.01},{"s":"HHW 2011","d":64.7,"v":525.98},{"s":"HHW 2011","d":67.5,"v":526.04},{"s":"HHW 2011","d":70,"v":525.97},{"s":"HHW 2011","d":73,"v":525.94},{"s":"HHW 2011","d":75.6,"v":525.96},{"s":"HHW 2011","d":78,"v":525.99},{"s":"HHW 2011","d":81,"v":525.95},{"s":"HHW 2011","d":84,"v":525.98},{"s":"HHW 2011","d":86.5,"v":525.97},{"s":"HHW 2011","d":89,"v":525.96},{"s":"HHW 2011","d":92,"v":525.97},{"s":"HHW 2011","d":95,"v":525.99},{"s":"HHW 2011","d":97.5,"v":525.97},{"s":"HHW 2011","d":100,"v":525.95},{"s":"HHW 2011","d":103,"v":525.93},{"s":"HHW 2011","d":106,"v":525.91},{"s":"HHW 2011","d":108.5,"v":525.93},{"s":"HHW 2011","d":111,"v":525.91},{"s":"HHW 2011","d":113.5,"v":525.93},{"s":"HHW 2011","d":116,"v":525.9},{"s":"HHW 2011","d":120,"v":525.93},{"s":"HHW 2011","d":123,"v":525.88},{"s":"HHW 2011","d":125.6,"v":525.88},{"s":"HHW 2011","d":129,"v":525.89},{"s":"HHW 2011","d":132,"v":525.85},{"s":"HHW 2011","d":135,"v":525.88},{"s":"HHW 2011","d":138,"v":525.87},{"s":"HHW 2011","d":142,"v":525.9},{"s":"HHW 2011","d":144.5,"v":525.88},{"s":"HHW 2011","d":147,"v":525.87},{"s":"HHW 2011","d":150,"v":525.88},{"s":"HHW 2011","d":153,"v":525.86},{"s":"HHW 2011","d":156,"v":525.85},{"s":"HHW 2011","d":160,"v":525.86},{"s":"HHW 2011","d":163,"v":525.88},{"s":"HHW 2011","d":165.4,"v":525.97},{"s":"HHW 2011","d":167,"v":525.91},{"s":"HHW 2011","d":169,"v":525.92},{"s":"HHW 2011","d":172,"v":525.9},{"s":"HHW 2011","d":174,"v":525.91},{"s":"HHW 2011","d":176,"v":525.86},{"s":"HHW 2011","d":179,"v":525.91},{"s":"HHW 2011","d":181.5,"v":525.93},{"s":"HHW 2011","d":183.5,"v":526.01},{"s":"HHW 2011","d":185,"v":525.95},{"s":"HHW 2011","d":187,"v":526.0},{"s":"HHW 2011","d":188.4,"v":526.06},{"s":"HHW 2011","d":190,"v":525.97},{"s":"HHW 2011","d":191,"v":526.19},{"s":"HHW 2011","d":193,"v":525.99},{"s":"HHW 2011","d":195,"v":525.96},{"s":"HHW 2011","d":198,"v":525.95},{"s":"HHW 2011","d":200.7,"v":525.98},{"s":"HHW 2011","d":202.5,"v":525.99},{"s":"HHW 2011","d":205,"v":525.94},{"s":"HHW 2011","d":208,"v":525.95},{"s":"HHW 2011","d":210,"v":525.93},{"s":"HHW 2011","d":212,"v":525.96},{"s":"HHW 2011","d":214,"v":525.95},{"s":"HHW 2011","d":216,"v":525.97},{"s":"HHW 2011","d":219,"v":525.96},{"s":"HHW 2011","d":221.7,"v":525.95},{"s":"HHW 2011","d":224.4,"v":526.0},{"s":"HHW 2011","d":226,"v":526.03},{"s":"HHW 2011","d":227.5,"v":526.0},{"s":"HHW 2011","d":229.5,"v":525.97},{"s":"HHW 2011","d":232,"v":525.96},{"s":"HHW 2011","d":235,"v":525.95},{"s":"HHW 2011","d":237.5,"v":525.93},{"s":"HHW 2011","d":240,"v":525.9},{"s":"HHW 2011","d":243,"v":525.88},{"s":"HHW 2011","d":245,"v":525.86},{"s":"HHW 2011","d":247,"v":526.0},{"s":"HHW 2011","d":250,"v":525.99},{"s":"HHW 2011","d":252.5,"v":525.96},{"s":"HHW 2011","d":254.5,"v":526.05},{"s":"HHW 2011","d":256.6,"v":525.98},{"s":"HHW 2011","d":258,"v":525.97},{"s":"HHW 2011","d":260,"v":526.38},{"s":"HHW 2011","d":262,"v":526.29},{"s":"HHW 2011","d":263.4,"v":526.17},{"s":"HHW 2011","d":266,"v":526.09},{"s":"HHW 2011","d":269,"v":526.03},{"s":"HHW 2011","d":271.6,"v":526.01},{"s":"HHW 2011","d":274.4,"v":525.97},{"s":"HHW 2011","d":277,"v":525.96},{"s":"HHW 2011","d":279,"v":526.0},{"s":"HHW 2011","d":281,"v":526.06},{"s":"HHW 2011","d":283,"v":526.2},{"s":"HHW 2011","d":284.5,"v":526.36},{"s":"HHW 2011","d":286,"v":526.2},{"s":"HHW 2011","d":288,"v":526.15},{"s":"HHW 2011","d":291,"v":526.14},{"s":"HHW 2011","d":293.5,"v":526.16},{"s":"HHW 2011","d":296,"v":526.14},{"s":"HHW 2011","d":299,"v":526.11},{"s":"HHW 2011","d":301.7,"v":526.07},{"s":"HHW 2011","d":304,"v":526.06},{"s":"HHW 2011","d":308.5,"v":526.05},{"s":"HHW 2011","d":312.6,"v":526.03},{"s":"HHW 2011","d":316.6,"v":526.01},{"s":"HHW 2011","d":320.8,"v":526.0},{"s":"HHW 2011","d":325,"v":525.97},{"s":"HHW 2011","d":329,"v":525.97},{"s":"HHW 2011","d":333,"v":525.98},{"s":"HHW 2011","d":335,"v":526.06},{"s":"HHW 2011","d":337,"v":526.31},{"s":"HHW 2011","d":339,"v":526.27},{"s":"HHW 2011","d":341,"v":526.22},{"s":"HHW 2011","d":344,"v":526.19},{"s":"HHW 2011","d":345.4,"v":526.15},{"s":"HHW 2011","d":347,"v":526.31},{"s":"HHW 2011","d":349,"v":526.58},{"s":"HHW 2011","d":350,"v":526.73},{"s":"HHW 2011","d":352,"v":526.51},{"s":"HHW 2011","d":352.8,"v":526.42},{"s":"HHW 2011","d":354.6,"v":526.4},{"s":"HHW 2011","d":356.4,"v":526.51},{"s":"HHW 2011","d":357.6,"v":526.6},{"s":"HHW 2011","d":359.5,"v":526.55},{"s":"HHW 2011","d":361.7,"v":526.49},{"s":"HHW 2011","d":363.5,"v":526.42},{"s":"HHW 2011","d":365.3,"v":526.4},{"s":"HHW 2011","d":366,"v":526.5},
{"s":"NNW 2024","d":1,"v":526.81},{"s":"NNW 2024","d":3,"v":526.95},{"s":"NNW 2024","d":4,"v":526.94},{"s":"NNW 2024","d":5,"v":526.86},{"s":"NNW 2024","d":7,"v":526.73},{"s":"NNW 2024","d":9,"v":526.64},{"s":"NNW 2024","d":11,"v":526.38},{"s":"NNW 2024","d":14,"v":526.25},{"s":"NNW 2024","d":16,"v":526.2},{"s":"NNW 2024","d":19,"v":526.17},{"s":"NNW 2024","d":21,"v":526.31},{"s":"NNW 2024","d":22,"v":526.55},{"s":"NNW 2024","d":24,"v":526.5},{"s":"NNW 2024","d":26,"v":526.47},{"s":"NNW 2024","d":28,"v":526.38},{"s":"NNW 2024","d":30,"v":526.31},{"s":"NNW 2024","d":32,"v":526.39},{"s":"NNW 2024","d":35,"v":526.47},{"s":"NNW 2024","d":36,"v":526.6},{"s":"NNW 2024","d":38,"v":526.87},{"s":"NNW 2024","d":40,"v":526.93},{"s":"NNW 2024","d":41,"v":526.9},{"s":"NNW 2024","d":42,"v":526.93},{"s":"NNW 2024","d":44,"v":526.88},{"s":"NNW 2024","d":46,"v":526.84},{"s":"NNW 2024","d":48,"v":526.81},{"s":"NNW 2024","d":51,"v":526.77},{"s":"NNW 2024","d":53,"v":526.67},{"s":"NNW 2024","d":55,"v":526.53},{"s":"NNW 2024","d":57,"v":526.35},{"s":"NNW 2024","d":59,"v":526.26},{"s":"NNW 2024","d":62,"v":526.2},{"s":"NNW 2024","d":65,"v":526.17},{"s":"NNW 2024","d":69,"v":526.14},{"s":"NNW 2024","d":73,"v":526.1},{"s":"NNW 2024","d":77,"v":526.07},{"s":"NNW 2024","d":80,"v":526.1},{"s":"NNW 2024","d":84,"v":526.06},{"s":"NNW 2024","d":88,"v":526.09},{"s":"NNW 2024","d":90,"v":526.05},{"s":"NNW 2024","d":93,"v":526.07},{"s":"NNW 2024","d":95,"v":526.03},{"s":"NNW 2024","d":99,"v":526.01},{"s":"NNW 2024","d":101.5,"v":525.97},{"s":"NNW 2024","d":104,"v":525.96},{"s":"NNW 2024","d":107,"v":526.0},{"s":"NNW 2024","d":110,"v":526.09},{"s":"NNW 2024","d":111.6,"v":526.2},{"s":"NNW 2024","d":114,"v":526.15},{"s":"NNW 2024","d":116,"v":526.06},{"s":"NNW 2024","d":119,"v":526.05},{"s":"NNW 2024","d":122,"v":526.08},{"s":"NNW 2024","d":125.6,"v":526.11},{"s":"NNW 2024","d":128,"v":526.12},{"s":"NNW 2024","d":130,"v":526.03},{"s":"NNW 2024","d":132,"v":525.96},{"s":"NNW 2024","d":135,"v":525.95},{"s":"NNW 2024","d":137,"v":525.99},{"s":"NNW 2024","d":139,"v":525.96},{"s":"NNW 2024","d":141,"v":526.03},{"s":"NNW 2024","d":142.5,"v":526.09},{"s":"NNW 2024","d":145,"v":526.08},{"s":"NNW 2024","d":147,"v":526.09},{"s":"NNW 2024","d":149.6,"v":526.09},{"s":"NNW 2024","d":151,"v":526.18},{"s":"NNW 2024","d":153,"v":526.8},{"s":"NNW 2024","d":154,"v":527.0},{"s":"NNW 2024","d":155.6,"v":526.84},{"s":"NNW 2024","d":158,"v":526.62},{"s":"NNW 2024","d":159.7,"v":526.51},{"s":"NNW 2024","d":161,"v":526.31},{"s":"NNW 2024","d":163,"v":526.13},{"s":"NNW 2024","d":165,"v":526.12},{"s":"NNW 2024","d":168,"v":526.1},{"s":"NNW 2024","d":170,"v":526.09},{"s":"NNW 2024","d":172,"v":526.07},{"s":"NNW 2024","d":173,"v":526.03},{"s":"NNW 2024","d":174.7,"v":526.02},{"s":"NNW 2024","d":175.5,"v":525.42},{"s":"NNW 2024","d":176,"v":525.93},{"s":"NNW 2024","d":178,"v":525.99},{"s":"NNW 2024","d":180,"v":526.02},{"s":"NNW 2024","d":183,"v":526.06},{"s":"NNW 2024","d":185,"v":526.05},{"s":"NNW 2024","d":187,"v":526.06},{"s":"NNW 2024","d":189,"v":526.04},{"s":"NNW 2024","d":191,"v":525.99},{"s":"NNW 2024","d":192.5,"v":526.04},{"s":"NNW 2024","d":195,"v":525.98},{"s":"NNW 2024","d":198,"v":525.95},{"s":"NNW 2024","d":200.7,"v":525.92},{"s":"NNW 2024","d":203.4,"v":525.91},{"s":"NNW 2024","d":206,"v":525.9},{"s":"NNW 2024","d":209,"v":525.93},{"s":"NNW 2024","d":212,"v":525.91},{"s":"NNW 2024","d":213,"v":525.95},{"s":"NNW 2024","d":214.6,"v":526.26},{"s":"NNW 2024","d":216,"v":526.27},{"s":"NNW 2024","d":218.4,"v":526.22},{"s":"NNW 2024","d":221,"v":526.15},{"s":"NNW 2024","d":224,"v":526.12},{"s":"NNW 2024","d":226.6,"v":526.1},{"s":"NNW 2024","d":229,"v":526.06},{"s":"NNW 2024","d":232,"v":526.03},{"s":"NNW 2024","d":235,"v":526.0},{"s":"NNW 2024","d":239,"v":525.96},{"s":"NNW 2024","d":243,"v":525.94},{"s":"NNW 2024","d":247,"v":525.92},{"s":"NNW 2024","d":250,"v":525.97},{"s":"NNW 2024","d":252.5,"v":526.03},{"s":"NNW 2024","d":254.5,"v":526.02},{"s":"NNW 2024","d":256.6,"v":526.05},{"s":"NNW 2024","d":259,"v":526.14},{"s":"NNW 2024","d":260.7,"v":526.07},{"s":"NNW 2024","d":263.4,"v":526.03},{"s":"NNW 2024","d":265.4,"v":525.95},{"s":"NNW 2024","d":267,"v":525.59},{"s":"NNW 2024","d":268,"v":526.13},{"s":"NNW 2024","d":270,"v":526.15},{"s":"NNW 2024","d":273,"v":526.18},{"s":"NNW 2024","d":275.7,"v":526.22},{"s":"NNW 2024","d":278,"v":526.42},{"s":"NNW 2024","d":279.5,"v":526.4},{"s":"NNW 2024","d":281,"v":526.48},{"s":"NNW 2024","d":282.6,"v":526.72},{"s":"NNW 2024","d":283.5,"v":526.62},{"s":"NNW 2024","d":285,"v":526.7},{"s":"NNW 2024","d":286,"v":526.72},{"s":"NNW 2024","d":288,"v":526.64},{"s":"NNW 2024","d":290,"v":526.53},{"s":"NNW 2024","d":292,"v":526.4},{"s":"NNW 2024","d":294.3,"v":526.28},{"s":"NNW 2024","d":297.6,"v":526.24},{"s":"NNW 2024","d":301,"v":526.23},{"s":"NNW 2024","d":303,"v":526.21},{"s":"NNW 2024","d":305.8,"v":526.17},{"s":"NNW 2024","d":308.5,"v":526.16},{"s":"NNW 2024","d":311,"v":526.13},{"s":"NNW 2024","d":314,"v":526.1},{"s":"NNW 2024","d":316.5,"v":526.12},{"s":"NNW 2024","d":319.5,"v":526.15},{"s":"NNW 2024","d":322,"v":526.17},{"s":"NNW 2024","d":323.6,"v":526.26},{"s":"NNW 2024","d":325,"v":526.2},{"s":"NNW 2024","d":327.7,"v":526.14},{"s":"NNW 2024","d":330.5,"v":526.16},{"s":"NNW 2024","d":333,"v":526.17},{"s":"NNW 2024","d":335.5,"v":526.16},{"s":"NNW 2024","d":338.6,"v":526.2},{"s":"NNW 2024","d":340,"v":526.24},{"s":"NNW 2024","d":341,"v":526.64},{"s":"NNW 2024","d":342.5,"v":526.53},{"s":"NNW 2024","d":344,"v":526.31},{"s":"NNW 2024","d":346,"v":526.23},{"s":"NNW 2024","d":348,"v":526.2},{"s":"NNW 2024","d":351,"v":526.22},{"s":"NNW 2024","d":353,"v":526.21},{"s":"NNW 2024","d":355,"v":526.29},{"s":"NNW 2024","d":357,"v":526.31},{"s":"NNW 2024","d":359,"v":526.24},{"s":"NNW 2024","d":362,"v":526.2},{"s":"NNW 2024","d":364.5,"v":526.14},{"s":"NNW 2024","d":366,"v":526.13},
{"s":"2025","d":1,"v":526.17},{"s":"2025","d":3,"v":526.15},{"s":"2025","d":6,"v":526.47},{"s":"2025","d":7,"v":526.42},{"s":"2025","d":9,"v":526.61},{"s":"2025","d":10,"v":526.51},{"s":"2025","d":12,"v":526.26},{"s":"2025","d":14,"v":526.3},{"s":"2025","d":16,"v":526.29},{"s":"2025","d":18,"v":526.2},{"s":"2025","d":21,"v":526.19},{"s":"2025","d":24,"v":526.22},{"s":"2025","d":28,"v":526.35},{"s":"2025","d":31,"v":526.26},{"s":"2025","d":35,"v":526.19},{"s":"2025","d":37,"v":526.17},{"s":"2025","d":40,"v":526.14},{"s":"2025","d":44,"v":526.13},{"s":"2025","d":48,"v":526.11},{"s":"2025","d":52,"v":526.06},{"s":"2025","d":54,"v":526.07},{"s":"2025","d":57,"v":526.14},{"s":"2025","d":59,"v":526.11},{"s":"2025","d":63,"v":526.06},{"s":"2025","d":65,"v":526.09},{"s":"2025","d":69,"v":526.05},{"s":"2025","d":71,"v":526.08},{"s":"2025","d":74,"v":526.03},{"s":"2025","d":78,"v":526.01},{"s":"2025","d":80,"v":526.0},{"s":"2025","d":84,"v":526.04},{"s":"2025","d":86.5,"v":526.07},{"s":"2025","d":89,"v":526.04},{"s":"2025","d":92.5,"v":526.08},{"s":"2025","d":95,"v":526.06}
]
},
"layer": [
{"layer": [
{"data": {"name": "gl"}, "mark": {"type": "line", "color": "#c2c2c2", "strokeWidth": 1},
 "encoding": {
  "x": {"field": "d", "type": "quantitative", "scale": {"domain": [-6.3, 373], "nice": false, "zero": false},
   "axis": {"orient": "bottom", "values": [0,31,59,90,120,151,181,212,243,273,304,334,365], "labels": false,
    "grid": true, "gridDash": [3, 3], "gridColor": "#d4d4d4", "gridWidth": 1,
    "domainColor": "#888888", "domainWidth": 1.5, "tickColor": "#888888", "tickSize": 4, "title": null}},
  "y": {"field": "v", "type": "quantitative", "scale": {"domain": [525.29, 527.27], "nice": false, "zero": false},
   "axis": {"values": [525.5,525.75,526,526.25,526.5,526.75,527,527.25],
    "labelExpr": "replace(format(datum.value, '.2f'), '.', ',')",
    "labelFontSize": 10.5, "labelColor": "#000000", "labelPadding": 4,
    "grid": true, "gridDash": [3, 3], "gridColor": "#d4d4d4", "gridWidth": 1,
    "domainColor": "#888888", "domainWidth": 1.5, "tickColor": "#888888", "tickSize": 4,
    "title": "Grundwasserstand [m ü. NN]", "titleFontSize": 11, "titleFontWeight": "normal", "titleColor": "#000000", "titlePadding": 6, "titleY": 132}},
  "detail": {"field": "s"}}},
{"data": {"name": "gd"}, "mark": {"type": "line", "color": "#9c9c9c", "strokeWidth": 1},
 "encoding": {
  "x": {"field": "d", "type": "quantitative", "scale": {"domain": [-6.3, 373], "nice": false, "zero": false},
   "axis": {"orient": "bottom", "values": [15.5,45,74.5,105,135.5,166,196.5,227.5,258,288.5,319,349.5],
    "labelExpr": "datum.value<30?'Jan.':datum.value<60?'Feb.':datum.value<90?'Mrz.':datum.value<120?'Apr.':datum.value<150?'Mai':datum.value<180?'Juni':datum.value<210?'Juli':datum.value<240?'Aug.':datum.value<270?'Sept.':datum.value<300?'Okt.':datum.value<330?'Nov.':'Dez.'",
    "labelFontSize": 10, "labelColor": "#000000", "labelPadding": 7, "labelOverlap": false, "labelFlush": false, "labelBound": false,
    "ticks": false, "tickSize": 0, "domain": false, "grid": false, "title": null}},
  "y": {"field": "v", "type": "quantitative", "scale": {"domain": [525.29, 527.27], "nice": false, "zero": false}},
  "detail": {"field": "s"}}},
{"data": {"name": "hl"}, "mark": {"type": "line"},
 "encoding": {
  "x": {"field": "d", "type": "quantitative", "scale": {"domain": [-6.3, 373], "nice": false, "zero": false}, "axis": null},
  "y": {"field": "v", "type": "quantitative", "scale": {"domain": [525.29, 527.27], "nice": false, "zero": false}},
  "color": {"field": "s", "type": "nominal",
   "scale": {"domain": ["2025", "NNW 2024", "HHW 2011", "2003"], "range": ["#0000ff", "#ff0000", "#8000ff", "#ffe600"]},
   "legend": {"orient": "none", "legendX": 93, "legendY": 318, "direction": "horizontal", "title": null,
    "symbolType": "stroke", "symbolSize": 289, "symbolStrokeWidth": 2, "labelFontSize": 12, "labelColor": "#000000",
    "labelOffset": 1, "columnPadding": 1, "padding": 0}},
  "strokeWidth": {"field": "s", "type": "nominal",
   "scale": {"domain": ["2025", "NNW 2024", "HHW 2011", "2003"], "range": [2.5, 1.2, 1.2, 1.2]}, "legend": null}}},
{"data": {"values": [{"t": "Messstelle: NENTSCHAU 29"}]}, "mark": {"type": "text", "align": "left", "baseline": "alphabetic", "fontSize": 17.5, "fontWeight": "bold", "color": "#000000"},
 "encoding": {"x": {"datum": -48.4, "scale": {"domain": [-6.3, 373], "nice": false, "zero": false}, "axis": null}, "y": {"datum": 527.453, "scale": {"domain": [525.29, 527.27], "nice": false, "zero": false}}, "text": {"field": "t"}}},
{"data": {"values": [{"t": "Grundwasserleiter: Kristallines Grundgebirge"}]}, "mark": {"type": "text", "align": "left", "baseline": "alphabetic", "fontSize": 12.2, "color": "#000000"},
 "encoding": {"x": {"datum": -48.4, "axis": null}, "y": {"datum": 527.332}, "text": {"field": "t"}}},
{"data": {"values": [{"t": "Nr: 10129"}]}, "mark": {"type": "text", "align": "right", "baseline": "alphabetic", "fontSize": 17.5, "fontWeight": "bold", "color": "#000000"},
 "encoding": {"x": {"datum": 412.3, "axis": null}, "y": {"datum": 527.453}, "text": {"field": "t"}}},
{"data": {"values": [{"t": "Zeitraum: Dez 1983 - Apr 2025"}]}, "mark": {"type": "text", "align": "right", "baseline": "alphabetic", "fontSize": 12.2, "color": "#000000"},
 "encoding": {"x": {"datum": 411, "axis": null}, "y": {"datum": 527.332}, "text": {"field": "t"}}},
{"data": {"values": [{"t": "erstellt:  06.04.2025"}]}, "mark": {"type": "text", "align": "left", "baseline": "alphabetic", "fontSize": 11, "color": "#000000"},
 "encoding": {"x": {"datum": -48.9, "axis": null}, "y": {"datum": 524.935}, "text": {"field": "t"}}},
{"data": {"values": [{"t": "- Rohdaten -"}]}, "mark": {"type": "text", "align": "center", "baseline": "alphabetic", "fontSize": 11, "color": "#000000"},
 "encoding": {"x": {"datum": 185, "axis": null}, "y": {"datum": 524.935}, "text": {"field": "t"}}},
{"data": {"values": [{"t": "Quelle: www.lfu.bayern.de"}]}, "mark": {"type": "text", "align": "right", "baseline": "alphabetic", "fontSize": 11, "color": "#0000ff"},
 "encoding": {"x": {"datum": 416.4, "axis": null}, "y": {"datum": 524.935}, "text": {"field": "t"}}}
],
"resolve": {"axis": {"x": "independent"}}},
{"data": {"values": [{"dep": 0.32}, {"dep": 2.3}]}, "mark": {"type": "point", "opacity": 0},
 "encoding": {"y": {"field": "dep", "type": "quantitative", "scale": {"domain": [0.32, 2.3], "reverse": true, "nice": false, "zero": false},
  "axis": {"orient": "right", "values": [0.5,0.75,1,1.25,1.5,1.75,2,2.25],
   "labelExpr": "replace(format(datum.value, '.2f'), '.', ',')",
   "labelFontSize": 10.5, "labelColor": "#000000", "labelPadding": 4, "grid": false,
   "domainColor": "#888888", "domainWidth": 1.5, "tickColor": "#888888", "tickSize": 4,
   "title": "Grundwasserstand [m u. Gelände]", "titleFontSize": 11, "titleFontWeight": "normal", "titleColor": "#000000", "titlePadding": 6}}}}
],
"resolve": {"scale": {"y": "independent"}}
}
